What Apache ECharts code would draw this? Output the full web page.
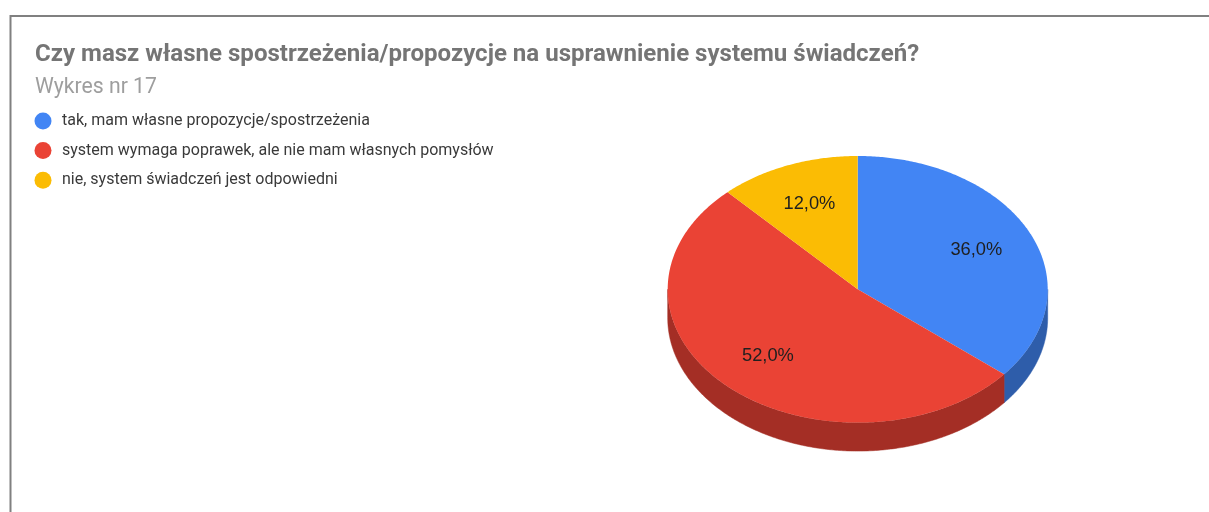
<!DOCTYPE html>
<html>
<head>
<meta charset="utf-8">
<style>html,body{margin:0;padding:0;background:#fff}#c{width:1209px;height:512px}</style>
<script src="https://cdn.jsdelivr.net/npm/echarts@6/dist/echarts.min.js"></script>
</head>
<body>
<div id="c"></div>
<script>
const titleText = 'Czy masz własne spostrzeżenia/propozycje na usprawnienie systemu świadczeń?';
const subtitleText = 'Wykres nr 17';
const categories = [
  'tak, mam własne propozycje/spostrzeżenia',
  'system wymaga poprawek, ale nie mam własnych pomysłów',
  'nie, system świadczeń jest odpowiedni'
];
const values = [36.0, 52.0, 12.0];
const topColors = ['#4285f4', '#ea4335', '#fbbc04'];
const wallColors = ['#2e5daa', '#a42e25', '#b08403'];

// Projection of the pie disc
const CX = 857.7, CY = 289.3, RX = 190, RY = 133.3, DEPTH = 28.5, LABEL_R = 0.69;
const total = values.reduce((a, b) => a + b, 0);
const TAU = Math.PI * 2;

function pt(a, dy) { // a: clockwise from 12 o'clock
  return [CX + RX * Math.sin(a), CY - RY * Math.cos(a) + (dy || 0)];
}
function arc(a0, a1, dy) {
  const n = Math.max(2, Math.ceil((a1 - a0) / 0.01));
  const out = [];
  for (let i = 0; i <= n; i++) out.push(pt(a0 + (a1 - a0) * i / n, dy));
  return out;
}
function renderSlice(index) {
  return function (params, api) {
    const before = values.slice(0, index).reduce((a, b) => a + b, 0);
    const a0 = before / total * TAU;
    const a1 = a0 + api.value(0) / total * TAU;
    const children = [];
    // side wall: only the part of the rim on the near half of the disc
    const w0 = Math.max(a0, Math.PI / 2), w1 = Math.min(a1, Math.PI * 1.5);
    if (w1 > w0) {
      children.push({
        type: 'polygon',
        shape: { points: arc(w0, w1, 0).concat(arc(w0, w1, DEPTH).reverse()) },
        style: { fill: wallColors[index], stroke: wallColors[index], lineWidth: 0.5 }
      });
    }
    children.push({
      type: 'polygon',
      shape: { points: [[CX, CY]].concat(arc(a0, a1, 0)) },
      style: { fill: topColors[index] }
    });
    const mid = (a0 + a1) / 2;
    children.push({
      type: 'text',
      z2: 10,
      style: {
        x: CX + RX * LABEL_R * Math.sin(mid),
        y: CY - RY * LABEL_R * Math.cos(mid),
        text: api.value(0).toFixed(1).replace('.', ',') + '%',
        align: 'center',
        verticalAlign: 'middle',
        font: '18.3px "Liberation Sans", Arial, sans-serif',
        fill: '#1f1f1f'
      }
    });
    return { type: 'group', children: children };
  };
}

const chart = echarts.init(document.getElementById('c'), null, { renderer: 'canvas' });
chart.setOption({
  animation: false,
  backgroundColor: '#ffffff',
  color: topColors,
  title: {
    text: titleText,
    subtext: subtitleText,
    left: 35,
    top: 42,
    itemGap: 8,
    padding: 0,
    textStyle: { fontFamily: 'Roboto', fontWeight: 'bold', fontSize: 24.05, color: '#757575', lineHeight: 26 },
    subtextStyle: { fontFamily: 'Roboto', fontSize: 21.2, color: '#9e9e9e', lineHeight: 24 }
  },
  legend: {
    orient: 'vertical',
    left: 34.5,
    top: 112.5,
    padding: 0,
    itemWidth: 17,
    itemHeight: 17,
    itemGap: 12.6,
    icon: 'circle',
    selectedMode: false,
    textStyle: { fontFamily: 'Roboto', fontSize: 16, color: '#3a3a3a', padding: [0, 0, 2, 5.5] },
    data: categories
  },
  graphic: [{
    type: 'polyline',
    silent: true,
    shape: { points: [[10.5, 520], [10.5, 16], [1220, 16]] },
    style: { stroke: '#808080', lineWidth: 2, fill: null }
  }],
  series: categories.map((name, i) => ({
    type: 'custom',
    name: name,
    coordinateSystem: 'none',
    silent: true,
    renderItem: renderSlice(i),
    data: [[values[i]]],
    encode: { value: 0 }
  }))
});
</script>
</body>
</html>
